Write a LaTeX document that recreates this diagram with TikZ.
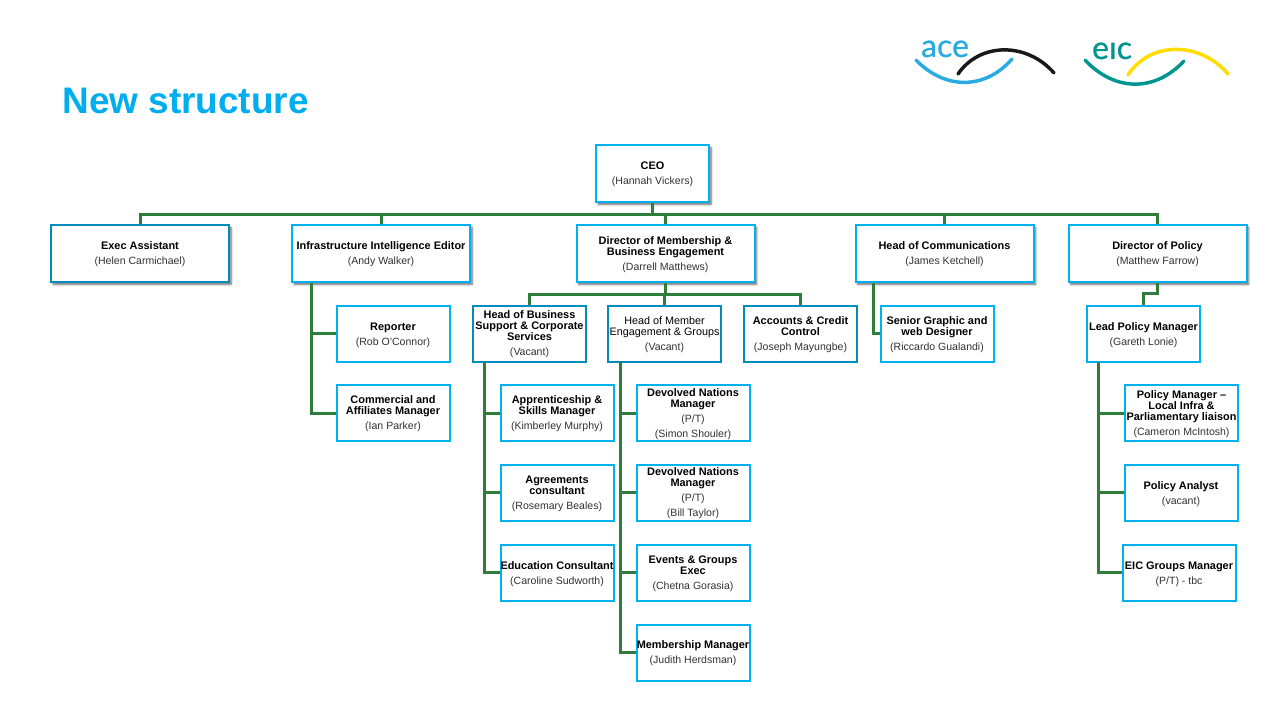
\documentclass[tikz,border=0pt]{standalone}
\usepackage{fontspec}
\setmainfont{Liberation Sans}
\newfontfamily\logofont[RawFeature={embolden=0.7}]{Lato}
\usetikzlibrary{shadows.blur}
\definecolor{boxblue}{RGB}{0,176,240}
\definecolor{boxdeep}{RGB}{0,140,190}
\definecolor{linegreen}{RGB}{46,125,58}
\definecolor{titleblue}{RGB}{0,174,239}
\definecolor{aceblue}{RGB}{41,171,226}
\definecolor{eicteal}{RGB}{0,150,143}
\definecolor{eicyellow}{RGB}{255,221,0}
\definecolor{namegrey}{RGB}{50,50,50}
\newcommand{\who}[1]{{\color{namegrey}#1}}
\newcommand{\role}[1]{{\fontsize{8.2}{8.25}\selectfont\bfseries #1}}
\newcommand{\rolelight}[1]{{\fontsize{8.1}{8.25}\selectfont #1}}
% first line taller, so the text sits lower in its box
\newcommand{\sinka}{\rule{0pt}{7.5pt}}
\newcommand{\sinkb}{\rule{0pt}{9pt}}
\tikzset{every picture/.style={line width=0.75pt}}
\tikzset{
  orgbox/.style={draw=boxblue,fill=white,line width=1.5pt,inner sep=0pt,align=center,
    font=\fontsize{7.9}{8.25}\selectfont},
  topbox/.style={orgbox,minimum width=133.5pt,minimum height=42.75pt},
  smallbox/.style={orgbox,minimum width=84.75pt,minimum height=42pt},
  shadowed/.style={blur shadow={shadow xshift=1.6pt,shadow yshift=-1.6pt,shadow blur radius=1.5pt,shadow blur steps=6,shadow opacity=60}},
  deepbox/.style={draw=boxdeep},
  orgline/.style={draw=linegreen,line width=2.25pt},
  logoline/.style={line width=2.6pt,line cap=round}
}

\begin{document}
\begin{tikzpicture}[x=0.75pt,y=0.75pt,yscale=-1,xscale=1]
\useasboundingbox (0,0) rectangle (1280,720);

% Title
\node (title) [anchor=west,inner sep=0pt,text=titleblue,font=\fontsize{27.7}{27.7}\selectfont\bfseries] at (62,101) {New structure};

% Logos
\node (acetext) [anchor=base,inner sep=0pt,text=aceblue,font=\fontsize{24}{24}\logofont] at (945,57) {ace};
\node (eictext) [anchor=base,inner sep=0pt,text=eicteal,font=\fontsize{24}{24}\logofont] at (1112,59) {e\i c};
\draw [logoline,draw=aceblue] (916,60) .. controls (945,90) and (985,90) .. (1012,59);
\draw [logoline,draw=black!90] (958,74) .. controls (980,42) and (1027,42) .. (1054,73);
\draw [logoline,draw=eicteal] (1085,60) .. controls (1115,92) and (1155,92) .. (1184,61);
\draw [logoline,draw=eicyellow] (1128,75) .. controls (1150,41) and (1200,41) .. (1228,74);

% Bend points
\coordinate (topbus) at (652.5,214.3);
\coordinate (dirbus) at (665.5,294);
\coordinate (leadjog) at (1143.5,293);
\coordinate (infratrunk) at (311,283);
\coordinate (commstrunk) at (873.5,283);
\coordinate (hbstrunk) at (484.5,362);
\coordinate (hmetrunk) at (620.5,362);
\coordinate (leadtrunk) at (1098.5,362);

% Top rows
\node (ceo) [smallbox,shadowed,minimum height=42.75pt] at (652.5,173.8) {\role{CEO}\\[3pt]\who{(Hannah Vickers)}};
\node (exec) [topbox,shadowed,deepbox] at (140,253.8) {\role{Exec Assistant}\\[3pt]\who{(Helen Carmichael)}};
\node (infra) [topbox,shadowed] at (381,253.8) {\role{Infrastructure Intelligence Editor}\\[3pt]\who{(Andy Walker)}};
\node (dir) [topbox,shadowed] at (665.5,253.8) {\sinka\role{Director of Membership \&}\\\role{Business Engagement}\\[3pt]\who{(Darrell Matthews)}};
\node (comms) [topbox,shadowed] at (944.5,253.8) {\role{Head of Communications}\\[3pt]\who{(James Ketchell)}};
\node (policy) [topbox,shadowed] at (1157.5,253.8) {\role{Director of Policy}\\[3pt]\who{(Matthew Farrow)}};

% Second row
\node (hbs) [smallbox,deepbox] at (529.5,333.7) {\role{Head of Business}\\\role{Support \& Corporate}\\\role{Services}\\[3pt]\who{(Vacant)}};
\node (hme) [smallbox,deepbox] at (664.5,333.7) {\sinka\rolelight{Head of Member}\\\rolelight{Engagement \& Groups}\\[3pt]\who{(Vacant)}};
\node (acc) [smallbox,deepbox] at (800.5,333.7) {\sinka\role{Accounts \& Credit}\\\role{Control}\\[3pt]\who{(Joseph Mayungbe)}};
\node (graphic) [smallbox] at (937,333.7) {\sinka\role{Senior Graphic and}\\\role{web Designer}\\[3pt]\who{(Riccardo Gualandi)}};
\node (lead) [smallbox] at (1143.5,333.7) {\sinka\role{Lead Policy Manager}\\[3pt]\who{(Gareth Lonie)}};
\node (reporter) [smallbox] at (393,333.7) {\sinka\role{Reporter}\\[3pt]\who{(Rob O'Connor)}};

% Lower rows
\node (commercial) [smallbox] at (393,413) {\sinka\role{Commercial and}\\\role{Affiliates Manager}\\[3pt]\who{(Ian Parker)}};
\node (apprentice) [smallbox] at (557,413) {\sinka\role{Apprenticeship \&}\\\role{Skills Manager}\\[3pt]\who{(Kimberley Murphy)}};
\node (agreements) [smallbox] at (557,492.5) {\sinka\role{Agreements}\\\role{consultant}\\[3pt]\who{(Rosemary Beales)}};
\node (education) [smallbox] at (557,572.5) {\sinkb\role{Education Consultant}\\[3pt]\who{(Caroline Sudworth)}};
\node (devolveda) [smallbox] at (693,413) {\sinka\role{Devolved Nations}\\\role{Manager}\\[3pt]\who{(P/T)}\\[3pt]\who{(Simon Shouler)}};
\node (devolvedb) [smallbox] at (693,492.5) {\sinka\role{Devolved Nations}\\\role{Manager}\\[3pt]\who{(P/T)}\\[3pt]\who{(Bill Taylor)}};
\node (events) [smallbox] at (693,572.5) {\sinka\role{Events \& Groups}\\\role{Exec}\\[3pt]\who{(Chetna Gorasia)}};
\node (membership) [smallbox] at (693,652.5) {\sinka\role{Membership Manager}\\[3pt]\who{(Judith Herdsman)}};
\node (localinfra) [smallbox] at (1181.5,413) {\sinka\role{Policy Manager --}\\\role{Local Infra \&}\\\role{Parliamentary liaison}\\[3pt]\who{(Cameron McIntosh)}};
\node (analyst) [smallbox] at (1181,492.5) {\sinkb\role{Policy Analyst}\\[3pt]\who{(vacant)}};
\node (groups) [smallbox] at (1179,572.5) {\sinkb\role{EIC Groups Manager}\\[3pt]\who{(P/T) - tbc}};

% Connectors
\draw [orgline] (exec.north) |- (topbus) -- (ceo.south);
\draw [orgline] (policy.north) |- (topbus);
\draw [orgline] (infra.north) -- (infra.north |- topbus);
\draw [orgline] (dir.north) -- (dir.north |- topbus);
\draw [orgline] (comms.north) -- (comms.north |- topbus);

\draw [orgline] (hbs.north) |- (dirbus) -- (dir.south);
\draw [orgline] (acc.north) |- (dirbus);
\draw [orgline] (hme.north) -- (hme.north |- dirbus);

\draw [orgline] (policy.south) |- (leadjog) -- (lead.north);

\draw [orgline] (infratrunk) |- (reporter.west);
\draw [orgline] (infratrunk) |- (commercial.west);
\draw [orgline] (commstrunk) |- (graphic.west);
\draw [orgline] (hbstrunk) |- (apprentice.west);
\draw [orgline] (hbstrunk) |- (agreements.west);
\draw [orgline] (hbstrunk) |- (education.west);
\draw [orgline] (hmetrunk) |- (devolveda.west);
\draw [orgline] (hmetrunk) |- (devolvedb.west);
\draw [orgline] (hmetrunk) |- (events.west);
\draw [orgline] (hmetrunk) |- (membership.west);
\draw [orgline] (leadtrunk) |- (localinfra.west);
\draw [orgline] (leadtrunk) |- (analyst.west);
\draw [orgline] (leadtrunk) |- (groups.west);
\end{tikzpicture}
\end{document}
